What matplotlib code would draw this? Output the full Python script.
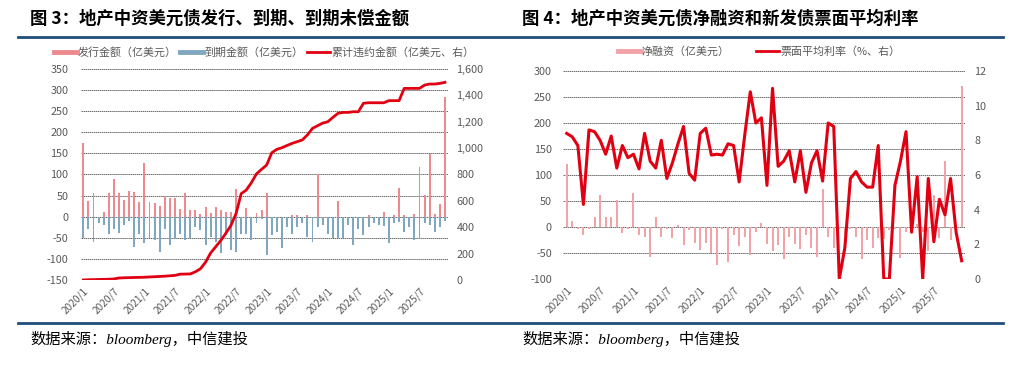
import matplotlib.pyplot as plt
import numpy as np
from matplotlib.lines import Line2D
from matplotlib.ticker import FuncFormatter

plt.rcParams['font.family'] = ['Noto Sans CJK SC', 'DejaVu Sans']
plt.rcParams['axes.unicode_minus'] = False

# monthly categories 2020/1 .. 2025/12
months = [f'{y}/{m}' for y in range(2020, 2026) for m in range(1, 13)]

# Fig 3: issuance / maturity (100m USD), cumulative default (100m USD, right)
issue = [175, 37, 55, 0, 10, 55, 90, 57, 40, 62, 58, 35,
         127, 35, 33, 25, 50, 45, 45, 18, 57, 15, 17, 6,
         24, 8, 24, 16, 10, 12, 65, 0, 21, 0, 8, 17,
         57, 0, 0, 0, 0, 4, 4, 0, 4, 0, 102, 0,
         0, 0, 38, 0, 0, 0, 0, 0, 4, 0, 0, 10,
         0, 4, 68, 4, 0, 6, 117, 51, 148, 6, 30, 283]
mature = [-50, -28, -60, -15, -20, -40, -30, -38, -20, -10, -72, -40,
          -62, -50, -55, -83, -30, -68, -50, -40, -55, -50, -24, -32,
          -67, -47, -59, -85, -44, -79, -83, -40, -40, -55, -16, -5,
          -91, -43, -36, -73, -24, -40, -24, -16, -47, -59, -25, -20,
          -40, -51, -51, -51, -20, -67, -28, -43, -24, -16, -20, -22,
          -62, -16, -12, -36, -24, -55, -53, -14, -20, -36, -24, -10]
default_cum = [0, 2, 3, 4, 5, 6, 8, 15, 17, 18, 19, 20,
               21, 23, 25, 27, 29, 32, 35, 44, 45, 46, 62, 85,
               135, 205, 252, 300, 355, 415, 505, 655, 682, 738, 805, 839,
               872, 965, 991, 1003, 1020, 1036, 1049, 1062, 1100, 1150, 1170, 1190,
               1200, 1233, 1264, 1271, 1271, 1276, 1276, 1340, 1344, 1344, 1344, 1344,
               1360, 1360, 1360, 1453, 1453, 1453, 1453, 1478, 1486, 1486, 1491, 1499]

# Fig 4: net financing (100m USD), average coupon of new issues (%, right)
net_fin = [122, 12, -3, -15, -4, 19, 62, 19, 19, 52, -12, -4,
           65, -15, -20, -57, 19, -20, -3, -22, 4, -35, -6, -30,
           -44, -30, -50, -74, -4, -67, -15, -36, -20, -54, -10, 8,
           -33, -46, -35, -62, -19, -33, -42, -15, -41, -57, 74, -19,
           -40, -3, -15, -3, -19, -62, -25, -40, -21, -23, -6, -3,
           -60, -9, -3, 5, -9, -47, 62, -22, 126, -25, 0, 272]
coupon = [8.4, 8.2, 7.7, 4.3, 8.6, 8.5, 8.0, 7.2, 8.25, 6.4, 7.7, 7.0,
          7.2, 6.35, 8.4, 6.8, 6.4, 8.0, 5.8, 6.7, 7.8, 8.8, 6.1, 5.7,
          8.4, 8.7, 7.15, 7.2, 7.15, 7.8, 7.7, 5.6, 8.3, 10.8, 9.0, 9.3,
          5.4, 11.0, 6.5, 6.8, 7.4, 5.6, 7.4, 5.0, 6.7, 7.4, 5.65, 9.0,
          8.8, 0, 1.8, 5.8, 6.2, 5.6, 5.3, 5.3, 7.7, 0, 0, 5.4,
          6.8, 8.5, 2.7, 5.9, 0, 5.8, 2.15, 4.6, 3.7, 5.8, 2.7, 1.05]

PINK = '#ee8a8f'
PINK2 = '#f2a3a7'
BLUE = '#80a7c0'
RED = '#e00012'
GRID = '#6a6a6a'
TXT = '#595959'
NAVY = '#1f4e79'

W, H = 1021, 378
fig = plt.figure(figsize=(W / 100, H / 100), dpi=100)
x = np.arange(len(months))


def style_axes(ax, axr, lpad, rpad):
    for a in (ax, axr):
        for s in a.spines.values():
            s.set_visible(False)
        a.tick_params(length=0, labelsize=7.8, colors=TXT)
    ax.tick_params(axis='y', pad=lpad)
    axr.tick_params(axis='y', pad=rpad)
    ax.set_axisbelow(True)
    ax.grid(axis='y', color=GRID, linewidth=0.7, linestyle=(0, (1.5, 0.6)))
    ax.set_xticks(x[::6])
    ax.set_xticklabels(months[::6], rotation=45, ha='right', rotation_mode='anchor',
                       fontsize=7.3)
    ax.tick_params(axis='x', pad=4)


# ---- left chart
ax1 = fig.add_axes([81 / W, 1 - 280 / H, 367 / W, 211 / H])
ax1.bar(x, issue, width=0.38, color=PINK)
ax1.bar(x, mature, width=0.38, color=BLUE)
ax1.set_ylim(-150, 350)
ax1.set_yticks(range(-150, 351, 50))
ax1.set_xlim(-0.45, 71.6)
ax1r = ax1.twinx()
ax1r.plot(x, default_cum, color=RED, linewidth=2)
ax1r.set_ylim(0, 1600)
ax1r.set_yticks(range(0, 1601, 200))
ax1r.yaxis.set_major_formatter(FuncFormatter(lambda v, p: f'{v:,.0f}'))
style_axes(ax1, ax1r, 9, 6)

# ---- right chart
ax2 = fig.add_axes([563 / W, 1 - 279 / H, 402 / W, 208 / H])
ax2.bar(x, net_fin, width=0.36, color=PINK2)
ax2.set_ylim(-100, 300)
ax2.set_yticks(range(-100, 301, 50))
ax2.set_xlim(-0.67, 71.6)
ax2r = ax2.twinx()
ax2r.plot(x, coupon, color=RED, linewidth=2.2)
ax2r.set_ylim(0, 12)
ax2r.set_yticks(range(0, 13, 2))
style_axes(ax2, ax2r, 8, 6.5)

# ---- titles, rules, legends, sources
fig.text(30 / W, 1 - 19 / H, '图 3：地产中资美元债发行、到期、到期未偿金额',
         fontsize=12.5, fontweight='bold', va='center', ha='left')
fig.text(522 / W, 1 - 19 / H, '图 4：地产中资美元债净融资和新发债票面平均利率',
         fontsize=12.5, fontweight='bold', va='center', ha='left')
for yy in (37, 322.5):
    fig.add_artist(Line2D([18 / W, 1003 / W], [1 - yy / H] * 2, color=NAVY, linewidth=2))

h1 = [Line2D([], [], color=PINK, linewidth=3.5),
      Line2D([], [], color=BLUE, linewidth=3.5),
      Line2D([], [], color=RED, linewidth=2)]
fig.legend(h1, ['发行金额（亿美元）', '到期金额（亿美元）', '累计违约金额（亿美元、右）'],
           loc='center', bbox_to_anchor=(264 / W, 1 - 52 / H), ncol=3, frameon=False,
           fontsize=7.9, handlelength=2.1, handletextpad=0.1, columnspacing=0.3,
           labelcolor=TXT)
h2 = [Line2D([], [], color=PINK2, linewidth=3.5),
      Line2D([], [], color=RED, linewidth=2)]
fig.legend(h2, ['净融资（亿美元）', '票面平均利率（%、右）'],
           loc='center', bbox_to_anchor=(759 / W, 1 - 52 / H), ncol=2, frameon=False,
           fontsize=7.9, handlelength=2.1, handletextpad=0.1, columnspacing=2.4,
           labelcolor=TXT)

src = '数据来源：bloomberg，中信建投'
for sx in (30, 522):
    fig.text(sx / W, 1 - 339 / H, src, fontsize=11, style='italic',
             family=['Liberation Serif', 'Noto Sans CJK SC'], va='center', ha='left')

fig.savefig('out.png', dpi=100)
